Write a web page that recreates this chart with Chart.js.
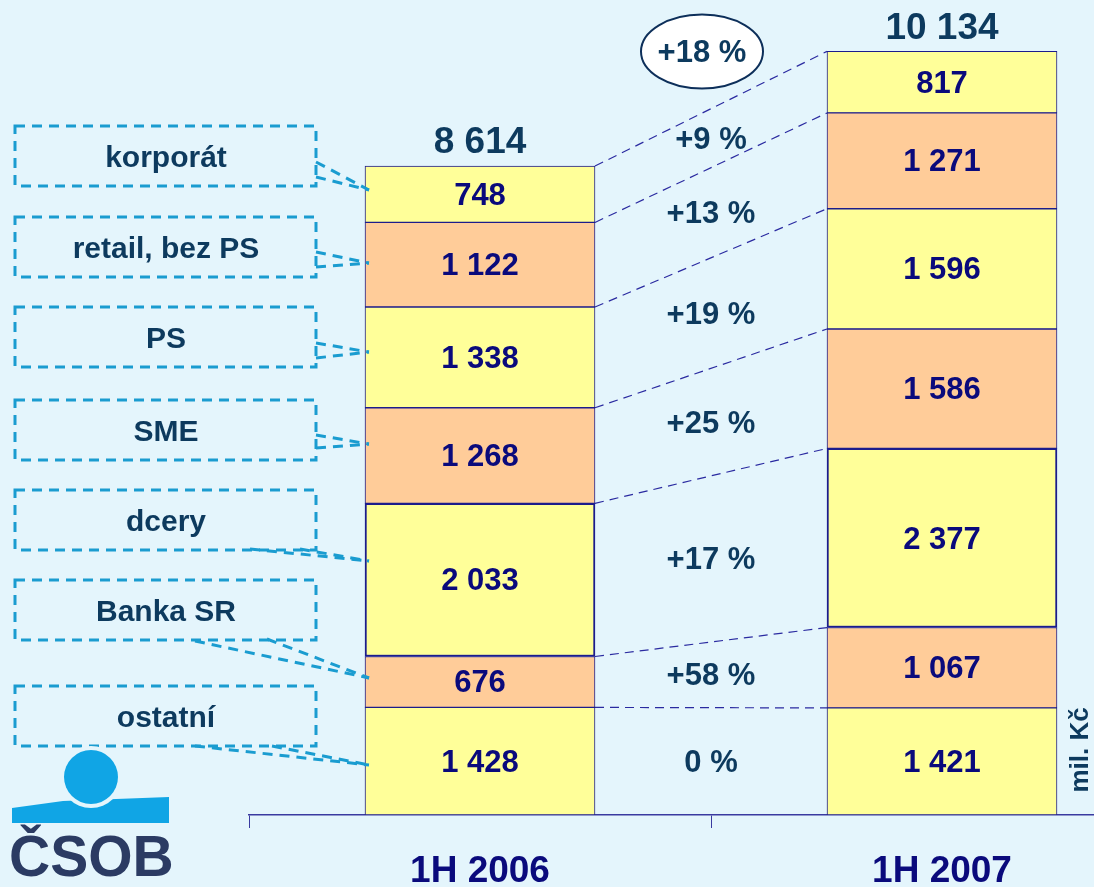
<!DOCTYPE html>
<html>
<head>
<meta charset="utf-8">
<script src="https://cdn.jsdelivr.net/npm/chart.js@4/dist/chart.umd.min.js"></script>
<style>
  html, body { margin: 0; padding: 0; overflow: hidden; background: #E4F5FC; }
  #wrap { width: 1180px; height: 887px; }
</style>
</head>
<body>
<div id="wrap"><canvas id="chart"></canvas></div>
<script>
// Data
const categories = ['1H 2006', '1H 2007'];
const segments = ['ostatní', 'Banka SR', 'dcery', 'SME', 'PS', 'retail, bez PS', 'korporát'];
const values2006 = [1428, 676, 2033, 1268, 1338, 1122, 748];
const values2007 = [1421, 1067, 2377, 1586, 1596, 1271, 817];
const totals = [8614, 10134];
const changes = ['0 %', '+58 %', '+17 %', '+25 %', '+19 %', '+13 %', '+9 %'];
const totalChange = '+18 %';
const unitLabel = 'mil. Kč';

const YELLOW = '#FFFF99';
const PEACH = '#FFCC99';
const NAVY = '#0A0A7C';
const DARK = '#0D3A5E';
const CYAN = '#1A9CD0';
const FONT = "'Liberation Sans', Arial, sans-serif";

// callout boxes on the left (layout only)
const callouts = [
    { box: [15, 686], base: [[195, 746], [272, 746]], tipY: 765 },
    { box: [15, 580], base: [[195, 641], [267, 639]], tipY: 678 },
    { box: [15, 490], base: [[250, 549], [300, 549]], tipY: 561 },
    { box: [15, 400], base: [[316, 435], [316, 448]], tipY: 444 },
    { box: [15, 307], base: [[316, 343], [316, 358]], tipY: 352 },
    { box: [15, 217], base: [[316, 252], [316, 267]], tipY: 263 },
    { box: [15, 126], base: [[316, 162], [316, 177]], tipY: 190 }
];

function fmt(n) {
    return String(n).replace(/\B(?=(\d{3})+(?!\d))/g, ' ');
}

const datasets = segments.map((name, i) => ({
    label: name,
    data: [values2006[i], values2007[i]],
    backgroundColor: i % 2 === 0 ? YELLOW : PEACH,
    borderColor: '#1C1C8C',
    borderWidth: name === 'dcery' ? 2 : 1,
    borderSkipped: false,
    barThickness: 230
}));

const decorations = {
    id: 'decorations',
    beforeDatasetsDraw(chart) {
        const ctx = chart.ctx;
        const metas = segments.map((_, i) => chart.getDatasetMeta(i));
        const y = chart.scales.y;
        const b0 = metas[0].data[0], b1 = metas[0].data[1];
        const right0 = b0.x + b0.width / 2;
        const left1 = b1.x - b1.width / 2;

        // connectors between bars
        ctx.save();
        ctx.strokeStyle = '#2A2AA0';
        ctx.lineWidth = 1.2;
        ctx.setLineDash([9, 6]);
        let c0 = 0, c1 = 0;
        segments.forEach((_, i) => {
            c0 += values2006[i];
            c1 += values2007[i];
            ctx.beginPath();
            ctx.moveTo(right0, y.getPixelForValue(c0));
            ctx.lineTo(left1, y.getPixelForValue(c1));
            ctx.stroke();
        });
        ctx.restore();
    },
    afterDatasetsDraw(chart) {
        const ctx = chart.ctx;
        const y = chart.scales.y;
        const metas = segments.map((_, i) => chart.getDatasetMeta(i));
        const b0 = metas[0].data[0], b1 = metas[0].data[1];
        const left0 = b0.x - b0.width / 2;
        const midX = (b0.x + b0.width / 2 + b1.x - b1.width / 2) / 2;

        ctx.save();
        ctx.textAlign = 'center';
        ctx.textBaseline = 'middle';

        // value labels
        ctx.fillStyle = NAVY;
        ctx.font = 'bold 31px ' + FONT;
        metas.forEach(meta => {
            meta.data.forEach((el, j) => {
                const v = j === 0 ? values2006 : values2007;
                ctx.fillText(fmt(v[meta.index]), el.x, (el.y + el.base) / 2 + 2);
            });
        });

        // totals
        ctx.fillStyle = DARK;
        ctx.font = 'bold 37px ' + FONT;
        totals.forEach((t, j) => {
            const el = metas[0].data[j];
            ctx.fillText(fmt(t), el.x, y.getPixelForValue(t) - 23);
        });

        // change labels between bars
        ctx.font = 'bold 31px ' + FONT;
        let c0 = 0, c1 = 0;
        changes.forEach((txt, i) => {
            const m0 = y.getPixelForValue(c0 + values2006[i] / 2);
            const m1 = y.getPixelForValue(c1 + values2007[i] / 2);
            c0 += values2006[i];
            c1 += values2007[i];
            ctx.fillText(txt, midX, (m0 + m1) / 2 + 2);
        });

        // total change in ellipse
        const ey = y.getPixelForValue(totals[1]);
        ctx.beginPath();
        ctx.ellipse(midX - 9, ey, 61, 37, 0, 0, Math.PI * 2);
        ctx.fillStyle = '#FFFFFF';
        ctx.fill();
        ctx.lineWidth = 2;
        ctx.strokeStyle = '#0D2F5A';
        ctx.stroke();
        ctx.fillStyle = DARK;
        ctx.fillText(totalChange, midX - 9, ey + 2);

        // callout boxes
        ctx.strokeStyle = CYAN;
        ctx.lineWidth = 3;
        ctx.setLineDash([10, 7]);
        callouts.forEach((c, i) => {
            const [bx, by] = c.box;
            ctx.strokeRect(bx, by, 301, 60);
            c.base.forEach(p => {
                ctx.beginPath();
                ctx.moveTo(p[0], p[1]);
                ctx.lineTo(left0 + 4, c.tipY);
                ctx.stroke();
            });
            ctx.fillStyle = DARK;
            ctx.font = 'bold 30px ' + FONT;
            ctx.fillText(segments[i], bx + 151, by + 33);
        });
        ctx.setLineDash([]);

        // unit label
        ctx.save();
        ctx.translate(1081, 750);
        ctx.rotate(-Math.PI / 2);
        ctx.font = 'bold 26px ' + FONT;
        ctx.fillStyle = DARK;
        ctx.fillText(unitLabel, 0, 0);
        ctx.restore();

        // logo
        ctx.fillStyle = '#10A5E5';
        ctx.beginPath();
        ctx.moveTo(12, 808);
        ctx.lineTo(63, 801);
        ctx.lineTo(169, 797);
        ctx.lineTo(169, 823);
        ctx.lineTo(12, 823);
        ctx.closePath();
        ctx.fill();
        ctx.fillStyle = '#E4F5FC';
        ctx.beginPath();
        ctx.arc(91, 777, 31, 0, Math.PI * 2);
        ctx.fill();
        ctx.fillStyle = '#10A5E5';
        ctx.beginPath();
        ctx.arc(91, 777, 27, 0, Math.PI * 2);
        ctx.fill();
        ctx.fillStyle = '#2B3B63';
        ctx.font = 'bold 57px ' + FONT;
        ctx.textAlign = 'left';
        ctx.textBaseline = 'alphabetic';
        ctx.fillText('ČSOB', 9, 876);

        ctx.restore();
    }
};

new Chart(document.getElementById('chart'), {
    type: 'bar',
    data: { labels: categories, datasets: datasets },
    options: {
        responsive: true,
        maintainAspectRatio: false,
        animation: false,
        layout: { padding: { left: 249, right: 7, top: 15, bottom: 0 } },
        plugins: {
            legend: { display: false },
            tooltip: { enabled: false }
        },
        scales: {
            x: {
                stacked: true,
                afterFit: s => { s.height = 72; },
                border: { display: true, color: '#3A3AA0', width: 1.5 },
                grid: { display: true, drawOnChartArea: false, drawTicks: true, tickLength: 13, color: '#3A3AA0' },
                ticks: { color: NAVY, font: { family: FONT, size: 37, weight: 'bold' }, padding: 22 }
            },
            y: {
                stacked: true,
                display: false,
                min: 0,
                max: 10618
            }
        }
    },
    plugins: [decorations]
});
</script>
</body>
</html>
